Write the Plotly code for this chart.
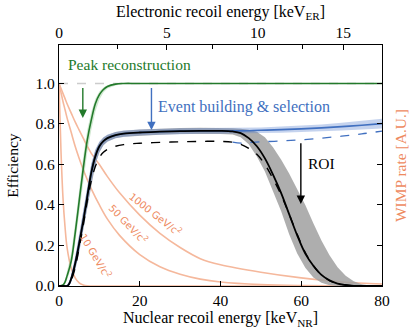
import plotly.graph_objects as go

# nuclear recoil energy grid for the efficiency curves [keV_NR]
e_nr = [0, 1, 2, 2.5, 3, 4, 5, 6, 7, 8, 9, 10, 11, 12, 14, 16, 20, 25, 30, 35, 40, 43,
        45, 47, 49, 51, 53, 55, 57, 59, 61, 63, 65, 67, 69, 71, 73, 75, 77, 80]

# total efficiency (solid black) and its ROI band
eff_total = [0, 0, 0, 0.01, 0.035, 0.11, 0.21, 0.32, 0.44, 0.56, 0.64, 0.69, 0.715, 0.73, 0.745, 0.752,
             0.758, 0.762, 0.765, 0.766, 0.766, 0.763,
             0.755, 0.73, 0.69, 0.63, 0.55, 0.46, 0.355, 0.25, 0.16, 0.1, 0.055, 0.028, 0.012, 0.005,
             0.001, 0, 0, 0]
eff_total_hi = [0, 0, 0.005, 0.02, 0.05, 0.14, 0.25, 0.37, 0.49, 0.6, 0.67, 0.71, 0.733, 0.746, 0.76, 0.767,
                0.773, 0.777, 0.78, 0.781, 0.781, 0.779,
                0.776, 0.772, 0.762, 0.735, 0.685, 0.625, 0.555, 0.48, 0.4, 0.31, 0.225, 0.152, 0.093, 0.05,
                0.024, 0.009, 0.002, 0]
eff_total_lo = [0, 0, 0, 0.003, 0.02, 0.08, 0.17, 0.28, 0.39, 0.51, 0.6, 0.66, 0.695, 0.713, 0.73, 0.737,
                0.743, 0.747, 0.75, 0.751, 0.751, 0.748,
                0.735, 0.7, 0.64, 0.565, 0.47, 0.37, 0.255, 0.16, 0.09, 0.042, 0.016, 0.004, 0, 0,
                0, 0, 0, 0]

# alternative (dashed black)
eff_alt = [0, 0, 0, 0.005, 0.025, 0.09, 0.19, 0.3, 0.42, 0.52, 0.59, 0.635, 0.66, 0.675, 0.69, 0.698,
           0.705, 0.709, 0.712, 0.714, 0.714, 0.71,
           0.7, 0.68, 0.65, 0.6, 0.53, 0.45, 0.355, 0.255, 0.165, 0.1, 0.055, 0.027, 0.012, 0.004,
           0.001, 0, 0, 0]

# event building & selection (blue), continues past the ROI cut
e_sel = [0, 1, 2, 2.5, 3, 4, 5, 6, 7, 8, 9, 10, 11, 12, 14, 16, 20, 25, 30, 35, 40, 43,
         45, 50, 55, 60, 65, 70, 75, 80]
eff_sel = [0, 0, 0, 0.01, 0.035, 0.11, 0.21, 0.32, 0.44, 0.56, 0.64, 0.69, 0.715, 0.73, 0.745, 0.752,
           0.758, 0.762, 0.765, 0.766, 0.766, 0.766,
           0.766, 0.769, 0.772, 0.776, 0.781, 0.787, 0.794, 0.802]
eff_sel_hi = [0, 0, 0.006, 0.022, 0.055, 0.145, 0.255, 0.375, 0.495, 0.605, 0.675, 0.713, 0.735, 0.748,
              0.761, 0.768, 0.773, 0.777, 0.779, 0.78, 0.78, 0.78,
              0.78, 0.783, 0.787, 0.792, 0.798, 0.806, 0.815, 0.826]
eff_sel_lo = [0, 0, 0, 0.002, 0.018, 0.075, 0.165, 0.27, 0.385, 0.505, 0.6, 0.66, 0.695, 0.712, 0.729,
              0.736, 0.743, 0.747, 0.751, 0.752, 0.752, 0.752,
              0.752, 0.755, 0.757, 0.76, 0.764, 0.768, 0.773, 0.778]
e_sel_alt = [43, 45, 47, 50, 55, 60, 65, 70, 75, 80]
eff_sel_alt = [0.71, 0.705, 0.708, 0.712, 0.716, 0.722, 0.73, 0.74, 0.751, 0.765]

# peak reconstruction (green)
e_peak = [0, 1, 1.5, 2, 3, 4, 5, 6, 7, 8, 9, 10, 11, 12, 14, 16, 20, 80]
eff_peak = [0, 0.005, 0.02, 0.05, 0.12, 0.26, 0.42, 0.58, 0.72, 0.82, 0.9, 0.945, 0.97, 0.985, 0.997, 1, 1, 1]
eff_peak_hi = [0, 0.01, 0.03, 0.07, 0.16, 0.31, 0.48, 0.64, 0.77, 0.86, 0.925, 0.96, 0.98, 0.992, 0.999, 1, 1, 1]
eff_peak_lo = [0, 0.002, 0.01, 0.03, 0.09, 0.21, 0.36, 0.52, 0.66, 0.77, 0.86, 0.92, 0.955, 0.975, 0.99, 0.998, 1, 1]

# WIMP recoil spectra, arbitrary units
e_wimp = [0, 0.5, 1, 1.5, 2, 3, 4, 5, 6, 7, 8, 10, 12, 15, 20, 25, 30, 35, 40, 50, 60, 70, 80]
rate_10 = [1.0, 0.66, 0.43, 0.29, 0.19, 0.09, 0.04, 0.015, 0.005, 0.001, 0, 0, 0, 0, 0, 0, 0, 0, 0, 0, 0, 0, 0]
rate_50 = [1.0, 0.955, 0.91, 0.87, 0.83, 0.76, 0.69, 0.63, 0.575, 0.525, 0.48, 0.4, 0.33, 0.25, 0.155,
           0.095, 0.058, 0.034, 0.02, 0.007, 0.002, 0.0005, 0]
rate_1000 = [1.0, 0.975, 0.95, 0.925, 0.9, 0.855, 0.81, 0.77, 0.73, 0.69, 0.655, 0.6, 0.54, 0.46, 0.35,
             0.26, 0.19, 0.135, 0.105, 0.068, 0.04, 0.02, 0.01]

# top axis: electronic recoil energy ticks, placed at the equivalent NR energy
er_labels = ["0", "5", "10", "15"]
er_pos_nr = [0, 26.7, 49.2, 70.4]
er_minor_pos_nr = [14.4, 38.0, 60.2]

FONT = "Liberation Serif, DejaVu Serif, serif"
FS = 15.5
GREEN = "#237a2b"
BLUE = "#4170c0"
ORANGE = "#ee8a60"
WIMP_LINE = "#f5b89c"

fig = go.Figure()


def band(x, lo, hi, color):
    fig.add_trace(go.Scatter(x=x, y=lo, mode="lines", line=dict(width=0), hoverinfo="skip", showlegend=False))
    fig.add_trace(go.Scatter(x=x, y=hi, mode="lines", line=dict(width=0), fill="tonexty",
                             fillcolor=color, hoverinfo="skip", showlegend=False))


# WIMP spectra
for rate in (rate_10, rate_50, rate_1000):
    fig.add_trace(go.Scatter(x=e_wimp, y=rate, mode="lines", line=dict(color=WIMP_LINE, width=1.6),
                             line_shape="spline", showlegend=False))

# unity reference
fig.add_trace(go.Scatter(x=[0, 80], y=[1, 1], mode="lines",
                         line=dict(color="#cccccc", width=1.3, dash="dash"), showlegend=False))

# peak reconstruction
band(e_peak, eff_peak_lo, eff_peak_hi, "rgba(120,190,120,0.35)")
fig.add_trace(go.Scatter(x=e_peak, y=eff_peak, mode="lines", line=dict(color=GREEN, width=1.6),
                         line_shape="spline", showlegend=False))

# ROI band, then event building band on top
band(e_nr, eff_total_lo, eff_total_hi, "rgba(160,160,160,0.85)")
band(e_sel, eff_sel_lo, eff_sel_hi, "rgba(90,130,205,0.35)")
fig.add_trace(go.Scatter(x=e_sel, y=eff_sel, mode="lines", line=dict(color=BLUE, width=1.6),
                         line_shape="spline", showlegend=False))
fig.add_trace(go.Scatter(x=e_sel_alt, y=eff_sel_alt, mode="lines",
                         line=dict(color=BLUE, width=1.3, dash="dash"), line_shape="spline", showlegend=False))

# total efficiencies
fig.add_trace(go.Scatter(x=e_nr, y=eff_total, mode="lines", line=dict(color="black", width=1.8),
                         line_shape="spline", showlegend=False))
fig.add_trace(go.Scatter(x=e_nr, y=eff_alt, mode="lines", line=dict(color="black", width=1.4, dash="dash"),
                         line_shape="spline", showlegend=False))

# dummy trace so the secondary axes are drawn
fig.add_trace(go.Scatter(x=[None], y=[None], xaxis="x2", yaxis="y2", showlegend=False, hoverinfo="skip"))

arrows = [
    (5.9, 0.985, 0.83, GREEN),
    (22.9, 0.985, 0.77, BLUE),
    (59.9, 0.712, 0.405, "black"),
]
for x, y0, y1, col in arrows:
    fig.add_annotation(x=x, y=y1, ax=x, ay=y0, xref="x", yref="y", axref="x", ayref="y",
                       showarrow=True, arrowhead=2, arrowsize=1.2, arrowwidth=1.4, arrowcolor=col, text="")

fig.add_annotation(x=1.7, y=1.095, text="Peak reconstruction", showarrow=False, xanchor="left",
                   font=dict(family=FONT, size=FS, color=GREEN))
fig.add_annotation(x=24.0, y=0.885, text="Event building & selection", showarrow=False, xanchor="left",
                   font=dict(family=FONT, size=FS + 0.5, color=BLUE))
fig.add_annotation(x=65, y=0.607, text="ROI", showarrow=False,
                   font=dict(family=FONT, size=FS, color="black"))
fig.add_annotation(x=-0.145, y=0.5, xref="paper", yref="paper", xanchor="center", yanchor="middle",
                   text="Efficiency", showarrow=False, textangle=-90,
                   font=dict(family=FONT, size=FS, color="black"))

wimp_labels = [
    ("1000 GeV/c<sup>2</sup>", 23.9, 0.355, 38),
    ("50 GeV/c<sup>2</sup>", 17.2, 0.304, 46),
    ("10 GeV/c<sup>2</sup>", 9.2, 0.15, 59),
]
for txt, x, y, ang in wimp_labels:
    fig.add_annotation(x=x, y=y, text=txt, showarrow=False, textangle=ang,
                       font=dict(family="DejaVu Sans, sans-serif", size=10, color=ORANGE))

axis_common = dict(showline=True, linecolor="black", linewidth=1.3, ticks="inside", ticklen=5,
                   tickwidth=1.3, tickcolor="black", showgrid=False, zeroline=False, automargin=False,
                   tickfont=dict(family=FONT, size=FS, color="black"))

fig.update_layout(
    width=415, height=335,
    margin=dict(l=59, r=33, t=45, b=49),
    plot_bgcolor="white", paper_bgcolor="white",
    font=dict(family=FONT, size=FS, color="black"),
    xaxis=dict(range=[0, 80], tickvals=[0, 20, 40, 60, 80],
               title=dict(text="Nuclear recoil energy [keV<sub>NR</sub>]", standoff=4,
                          font=dict(family=FONT, size=16)), **axis_common),
    xaxis2=dict(range=[0, 80], overlaying="x", side="top", anchor="y", tickvals=er_pos_nr, ticktext=er_labels,
                minor=dict(tickvals=er_minor_pos_nr, ticks="inside", ticklen=4, tickwidth=1.1, tickcolor="black"),
                title=dict(text="Electronic recoil energy [keV<sub>ER</sub>]", standoff=2,
                           font=dict(family=FONT, size=16)), **axis_common),
    yaxis=dict(range=[0, 1.19], tickvals=[0, 0.2, 0.4, 0.6, 0.8, 1.0], tickformat=".1f", **axis_common),
    yaxis2=dict(range=[0, 1.19], overlaying="y", side="right", anchor="x", tickvals=[0, 0.2, 0.4, 0.6, 0.8, 1.0],
                showticklabels=False,
                title=dict(text="WIMP rate [A.U.]", standoff=12, font=dict(family=FONT, size=FS, color=ORANGE)),
                **axis_common),
)

fig.write_html("out.html", config={"displayModeBar": False},
               post_script="document.body.style.margin='0';")
